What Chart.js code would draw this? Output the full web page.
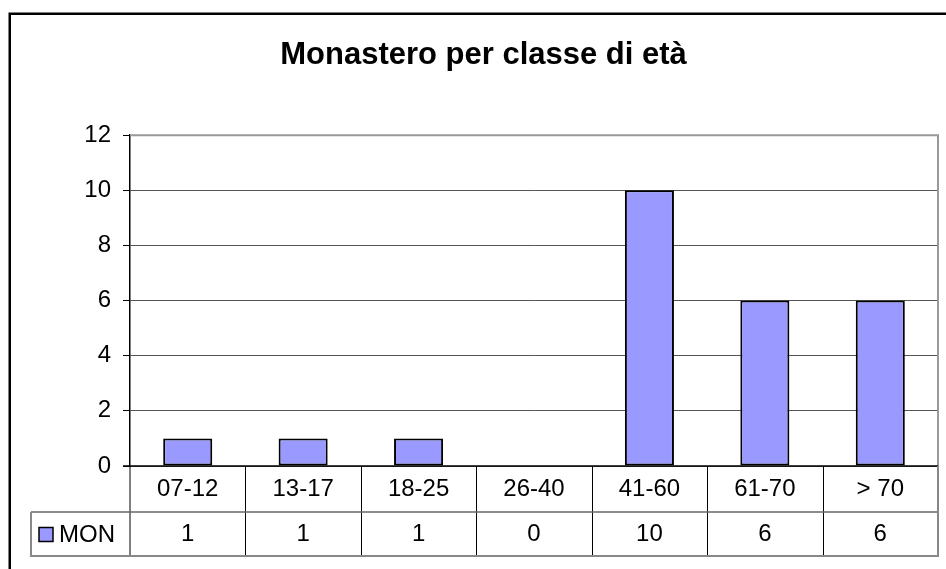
<!DOCTYPE html>
<html>
<head>
<meta charset="utf-8">
<script src="https://cdn.jsdelivr.net/npm/chart.js@4"></script>
<style>
  html, body { margin: 0; padding: 0; background: #fff; }
  #wrap { width: 946px; height: 569px; }
</style>
</head>
<body>
<div id="wrap"><canvas id="c" width="946" height="569"></canvas></div>
<script>
const titleText = 'Monastero per classe di età';
const seriesName = 'MON';
const categories = ['07-12', '13-17', '18-25', '26-40', '41-60', '61-70', '> 70'];
const monValues = [1, 1, 1, 0, 10, 6, 6];
const yTicks = { min: 0, max: 12, step: 2 };

const FONT = "'Liberation Sans', Arial, sans-serif";
const barFill = '#9999FF';
const LABEL_SIZE = 24;

const framePlugin = {
  id: 'frame',
  beforeDraw(chart) {
    const ctx = chart.ctx;
    ctx.save();
    ctx.fillStyle = '#fff';
    ctx.fillRect(0, 0, chart.width, chart.height);
    ctx.restore();
  },
  afterDraw(chart) {
    const ctx = chart.ctx;
    const a = chart.chartArea;
    const x = chart.scales.x;
    const x2 = chart.scales.x2;
    const n = categories.length;
    const half = (x.getPixelForValue(1) - x.getPixelForValue(0)) / 2;
    ctx.save();
    // outer frame
    ctx.strokeStyle = '#000';
    ctx.lineWidth = 2.5;
    ctx.strokeRect(9.75, 13.75, 3000, 3000);
    // plot border top/right
    ctx.strokeStyle = '#999';
    ctx.lineWidth = 2;
    ctx.beginPath();
    ctx.moveTo(a.left, a.top);
    ctx.lineTo(a.right, a.top);
    ctx.lineTo(a.right, a.bottom);
    ctx.stroke();
    // zero line
    ctx.strokeStyle = '#000';
    ctx.lineWidth = 1.5;
    ctx.beginPath();
    ctx.moveTo(a.left - 7, a.bottom);
    ctx.lineTo(a.right, a.bottom);
    ctx.stroke();
    // table vertical lines
    ctx.lineWidth = 1;
    ctx.strokeStyle = '#000';
    for (let i = 0; i < n - 1; i++) {
      const bx = Math.round(x.getPixelForValue(i) + half) + 0.5;
      ctx.beginPath();
      ctx.moveTo(bx, x.top);
      ctx.lineTo(bx, x2.bottom);
      ctx.stroke();
    }
    ctx.beginPath();
    ctx.moveTo(a.left, x.top);
    ctx.lineTo(a.left, x2.bottom);
    ctx.stroke();
    // row separator
    const tableLeft = 31;
    ctx.strokeStyle = '#666';
    ctx.lineWidth = 1.5;
    ctx.beginPath();
    ctx.moveTo(tableLeft, x2.top);
    ctx.lineTo(a.right, x2.top);
    ctx.stroke();
    // outer table edges
    ctx.strokeStyle = '#888';
    ctx.lineWidth = 2;
    ctx.beginPath();
    ctx.moveTo(tableLeft, x2.top);
    ctx.lineTo(tableLeft, x2.bottom);
    ctx.lineTo(a.right, x2.bottom);
    ctx.lineTo(a.right, x.top);
    ctx.stroke();
    // legend key + series name
    const cy = (x2.top + x2.bottom) / 2;
    ctx.fillStyle = barFill;
    ctx.fillRect(39, cy - 6.5, 14, 14);
    ctx.strokeStyle = '#000';
    ctx.lineWidth = 1.5;
    ctx.strokeRect(39, cy - 6.5, 14, 14);
    ctx.fillStyle = '#000';
    ctx.font = LABEL_SIZE + 'px ' + FONT;
    ctx.textAlign = 'left';
    ctx.textBaseline = 'middle';
    ctx.fillText(seriesName, 59, cy + 1);
    ctx.restore();
  }
};

new Chart(document.getElementById('c'), {
  type: 'bar',
  data: {
    labels: categories,
    datasets: [{
      label: seriesName,
      data: monValues,
      backgroundColor: barFill,
      borderColor: '#000',
      borderWidth: 2,
      borderSkipped: false,
      categoryPercentage: 1,
      barPercentage: 0.425,
      xAxisID: 'x',
      yAxisID: 'y'
    }]
  },
  options: {
    responsive: false,
    animation: false,
    devicePixelRatio: 1,
    layout: { padding: { left: 29, right: 8, top: 0, bottom: 13 } },
    plugins: {
      legend: { display: false },
      tooltip: { enabled: false },
      title: {
        display: true,
        text: titleText,
        color: '#000',
        font: { family: FONT, size: 31, weight: 'bold' },
        padding: { top: 37, bottom: 61 }
      }
    },
    scales: {
      y: {
        min: yTicks.min,
        max: yTicks.max,
        afterFit(s) { s.width = 101; },
        ticks: {
          stepSize: yTicks.step,
          color: '#000',
          padding: 12,
          font: { family: FONT, size: LABEL_SIZE }
        },
        grid: { color: '#555', lineWidth: 1, tickLength: 7, tickColor: '#000' },
        border: { color: '#000', width: 1.5 }
      },
      x: {
        type: 'category',
        position: 'bottom',
        weight: 0,
        afterFit(s) { s.height = 46; },
        grid: { display: false, drawTicks: false },
        border: { display: false },
        ticks: {
          color: '#000',
          padding: 9,
          maxRotation: 0,
          autoSkip: false,
          font: { family: FONT, size: LABEL_SIZE }
        }
      },
      x2: {
        type: 'category',
        position: 'bottom',
        weight: 1,
        offset: true,
        labels: monValues.map(String),
        afterFit(s) { s.height = 44; },
        grid: { display: false, drawTicks: false },
        border: { display: false },
        ticks: {
          color: '#000',
          padding: 8,
          maxRotation: 0,
          autoSkip: false,
          font: { family: FONT, size: LABEL_SIZE }
        }
      }
    }
  },
  plugins: [framePlugin]
});
</script>
</body>
</html>
